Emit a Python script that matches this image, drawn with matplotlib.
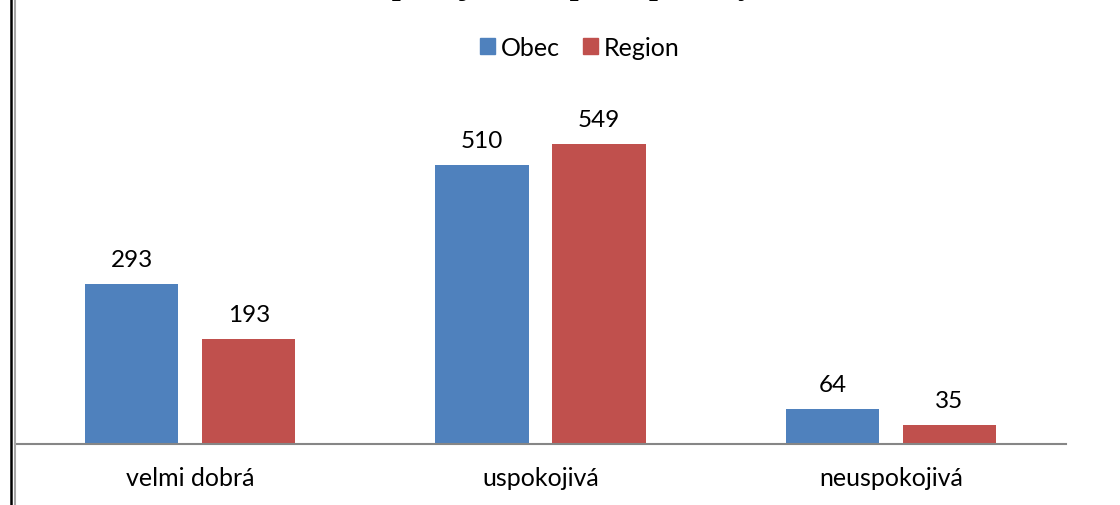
import matplotlib.pyplot as plt
import numpy as np
from matplotlib.lines import Line2D
from matplotlib.patches import Patch

# Chart data
CATEGORIES = ["velmi dobrá", "uspokojivá", "neuspokojivá"]
OBEC = [293, 510, 64]
REGION = [193, 549, 35]
SERIES_NAMES = ["Obec", "Region"]
# title is cut off at the top edge in the source, only descenders remain
TITLE = "Spokojenost s prací pro obyvatele"

COLORS = ["#4F81BD", "#C0504D"]
AXIS_COLOR = "#868686"
FONT = "Lato"
W, H = 1120, 506


def main():
    fig = plt.figure(figsize=(W / 100, H / 100), dpi=100)
    ax = fig.add_axes([15 / W, 61 / H, 1051 / W, 437 / H])

    x = np.arange(len(CATEGORIES))
    width = 0.266
    offset = 0.167
    for i, (name, vals) in enumerate(zip(SERIES_NAMES, [OBEC, REGION])):
        pos = x + (offset if i else -offset)
        bars = ax.bar(pos, vals, width, color=COLORS[i], label=name)
        for b, v in zip(bars, vals):
            ax.annotate(str(v), (b.get_x() + b.get_width() / 2, v),
                        xytext=(0, 18), textcoords="offset pixels",
                        ha="center", va="baseline", fontsize=17.5,
                        family=FONT, color="black")

    ax.set_xlim(-0.5, 2.5)
    ax.set_ylim(0, 800)
    ax.set_yticks([])
    ax.set_xticks(x)
    ax.set_xticklabels(CATEGORIES, fontsize=18, family=FONT)
    ax.tick_params(axis="x", length=0, pad=16)
    for s in ["top", "right", "left"]:
        ax.spines[s].set_visible(False)
    ax.spines["bottom"].set_color(AXIS_COLOR)
    ax.spines["bottom"].set_linewidth(1.5)

    # frame lines on the left edge
    fig.add_artist(Line2D([11 / W, 11 / W], [0, 1], color="black", lw=1.8))
    fig.add_artist(Line2D([15 / W, 15 / W], [0, 1], color="#A6A6A6", lw=1.5))

    handles = [Patch(color=c) for c in COLORS]
    fig.legend(handles, SERIES_NAMES, loc="center", bbox_to_anchor=(580 / W, 1 - 48 / H),
               ncol=2, frameon=False, prop={"family": FONT, "size": 18},
               handlelength=0.6, handleheight=0.6, handletextpad=0.25,
               columnspacing=0.9)

    fig.text(374 / W, 1 + 6 / H, TITLE, ha="left", va="baseline",
             fontsize=23, fontweight="bold", family="Liberation Serif")

    fig.savefig("out.png", dpi=100)


if __name__ == "__main__":
    main()
